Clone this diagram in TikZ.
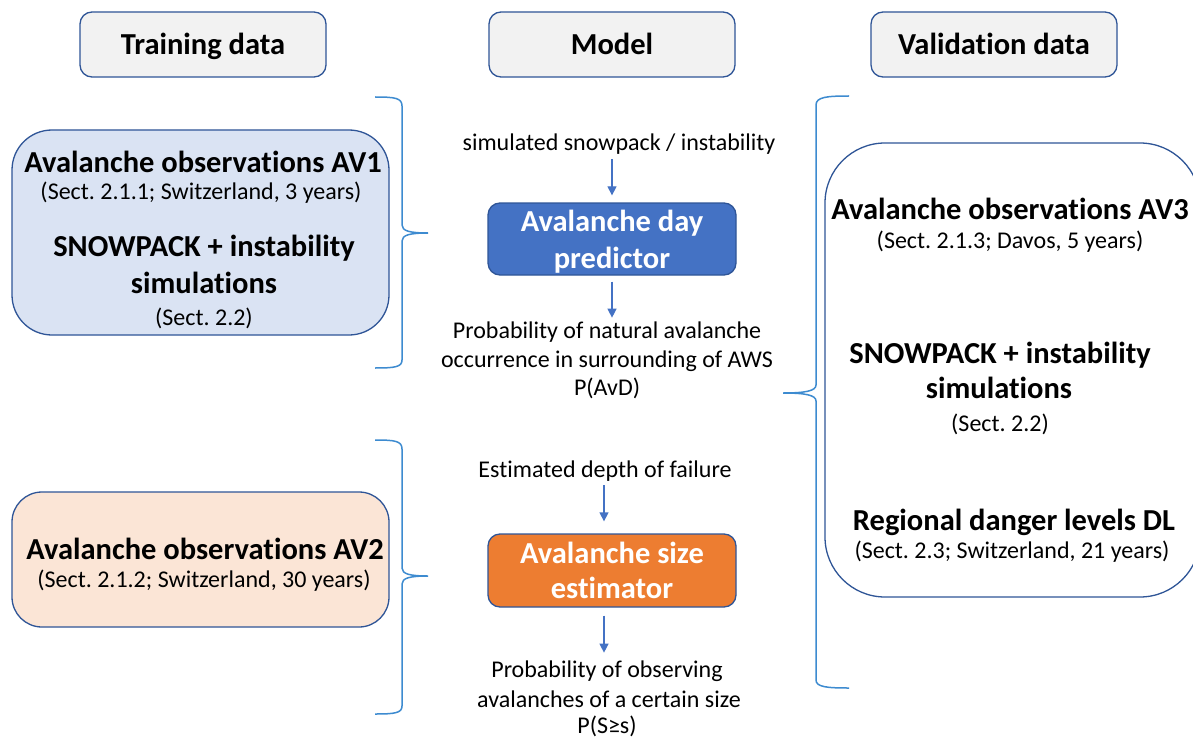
\documentclass[tikz,border=0pt]{standalone}
\usepackage{fontspec}
\setmainfont{Carlito}[Ligatures=NoCommon]
\usetikzlibrary{arrows.meta}
\definecolor{bord}{HTML}{2F5597}
\definecolor{hdrfill}{HTML}{F2F2F2}
\definecolor{bluefill}{HTML}{DAE3F3}
\definecolor{peachfill}{HTML}{FBE5D6}
\definecolor{predfill}{HTML}{4472C4}
\definecolor{sizefill}{HTML}{ED7D31}
\definecolor{arrowc}{HTML}{4472C4}
\definecolor{bracec}{HTML}{3D8BD0}
\frenchspacing
\begin{document}
\begin{tikzpicture}[x=1pt,y=-1pt,
  hdr/.style={draw=bord, fill=hdrfill, line width=1.3pt, rounded corners=12pt, minimum width=246pt, minimum height=65pt, inner sep=0pt},
  big/.style={font=\fontsize{30.5}{36}\selectfont\bfseries, anchor=base, inner sep=0pt},
  small/.style={font=\fontsize{24}{28}\selectfont, anchor=base, inner sep=0pt},
  model/.style={draw=bord, line width=1.3pt, rounded corners=12pt, minimum width=248pt, inner sep=0pt},
  arr/.style={draw=arrowc, line width=1.3pt, -{Triangle[length=9pt,width=9pt]}},
  brace/.style={draw=bracec, line width=1.5pt}]
\useasboundingbox (0,0) rectangle (1193,738);
\fill[white] (0,0) rectangle (1193,738);

% headers
\node[hdr] (htrain) at (203,44.5) {};
\node[hdr] (hmodel) at (612,44.5) {};
\node[hdr] (hval) at (994,44.5) {};
\node[big] (thtrain) at (203,55) {Training data};
\node[big] (thmodel) at (612,55) {Model};
\node[big] (thval) at (994,55) {Validation data};

% left boxes
\node[draw=bord, fill=bluefill, line width=1.3pt, rounded corners=40pt, minimum width=377pt, minimum height=205pt, inner sep=0pt] (av1) at (200.5,232.5) {};
\node[big] (av1a) at (203,172) {Avalanche observations AV1};
\node[small] (av1b) at (201,200) {(Sect. 2.1.1; Switzerland, 3 years)};
\node[big] (av1c) at (204,256) {SNOWPACK + instability};
\node[big] (av1d) at (204,293) {simulations};
\node[small] (av1e) at (204,325) {(Sect. 2.2)};

\node[draw=bord, fill=peachfill, line width=1.3pt, rounded corners=30pt, minimum width=377pt, minimum height=135pt, inner sep=0pt] (av2) at (200.5,559.5) {};
\node[big] (av2a) at (205,559) {Avalanche observations AV2};
\node[small] (av2b) at (204,587) {(Sect. 2.1.2; Switzerland, 30 years)};

% right box
\node[draw=bord, fill=white, line width=1.3pt, rounded corners=60pt, minimum width=375pt, minimum height=454pt, inner sep=0pt] (val) at (1012.5,370) {};
\node[big] (v1) at (1010,219) {Avalanche observations AV3};
\node[small] (v2) at (1010,248) {(Sect. 2.1.3; Davos, 5 years)};
\node[big] (v3) at (1000,363) {SNOWPACK + instability};
\node[big] (v4) at (999,398) {simulations};
\node[small] (v5) at (1000,431) {(Sect. 2.2)};
\node[big] (v6) at (1014,530) {Regional danger levels DL};
\node[small] (v7) at (1012,558) {(Sect. 2.3; Switzerland, 21 years)};

% model column
\node[small] (sim) at (619,151) {simulated snowpack / instability};
\node[model, fill=predfill, minimum height=72pt] (pred) at (612,239) {};
\node[big, text=white] (pred1) at (612,231) {Avalanche day};
\node[big, text=white] (pred2) at (612,268) {predictor};
\node[small] (p1) at (607,338) {Probability of natural avalanche};
\node[small] (p2) at (607,367) {occurrence in surrounding of AWS};
\node[small] (p3) at (607,395) {P(AvD)};

\node[small] (depth) at (605,477) {Estimated depth of failure};
\node[model, fill=sizefill, minimum height=73pt] (size) at (612,570.5) {};
\node[big, text=white] (size1) at (612,563) {Avalanche size};
\node[big, text=white] (size2) at (612,598) {estimator};
\node[small] (q1) at (607,677) {Probability of observing};
\node[small] (q2) at (609,707) {avalanches of a certain size};
\node[small] (q3) at (607,733) {P(S≥s)};

% arrows
\draw[arr] ([yshift=43pt]pred.north) -- ([yshift=7pt]pred.north);
\draw[arr] ([yshift=-6pt]pred.south) -- ([yshift=-42pt]pred.south);
\draw[arr] ([xshift=-8pt,yshift=48pt]size.north) -- ([xshift=-8pt,yshift=12pt]size.north);
\draw[arr] ([xshift=-8pt,yshift=-8pt]size.south) -- ([xshift=-8pt,yshift=-45pt]size.south);

% braces
\coordinate (b1) at (428,233);
\coordinate (b2) at (428,576);
\coordinate (b3) at (783,393);
\draw[brace] (375,97) .. controls (395,97) and (402,98) .. (402,106) -- (402,225)
  .. controls (402,231) and (410,233) .. (b1)
  .. controls (410,233) and (402,235) .. (402,241) -- (402,360)
  .. controls (402,367) and (395,368) .. (375,368);
\draw[brace] (375,440) .. controls (395,440) and (402,441) .. (402,449) -- (402,568)
  .. controls (402,574) and (410,576) .. (b2)
  .. controls (410,576) and (402,578) .. (402,584) -- (402,706)
  .. controls (402,713) and (395,714) .. (375,714);
\draw[brace] (849,96) .. controls (827,96) and (816,97) .. (816,105) -- (816,385)
  .. controls (816,391) and (805,393) .. (b3)
  .. controls (805,393) and (816,395) .. (816,401) -- (816,680)
  .. controls (816,687) and (827,688) .. (849,688);
\end{tikzpicture}
\end{document}
